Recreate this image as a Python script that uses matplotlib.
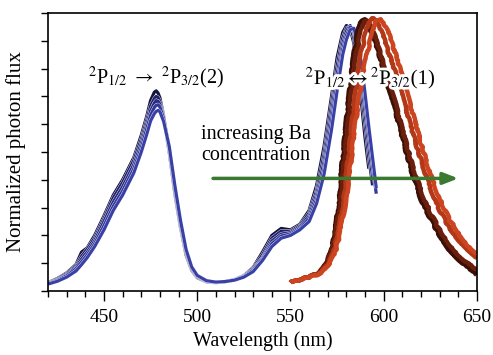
import numpy as np
import matplotlib
matplotlib.use("Agg")
import matplotlib.pyplot as plt
import matplotlib.patheffects as pe

plt.rcParams['font.family'] = ['Liberation Serif', 'DejaVu Serif']
plt.rcParams['mathtext.fontset'] = 'stix'

# ---- data ----
wl_blue = [420, 425, 430, 435, 438, 441, 445, 450, 455, 460, 463, 466, 470, 473, 475, 477, 478, 479, 480,
           482, 485, 488, 491, 494, 497, 500, 505, 510, 515, 520, 525, 530, 535, 540, 545,
           550, 555, 560, 564, 568, 572, 575, 578, 580, 582, 584, 586, 588, 590, 592, 594, 596]

blue1 = [.030, .045, .065, .095, .140, .155, .200, .270, .345, .400, .440, .480, .560, .630, .685, .715, .720, .712, .695,
         .630, .500, .350, .230, .130, .075, .048, .033, .030, .033, .040, .055, .085, .140, .200, .225,
         .220, .240, .290, .380, .520, .700, .840, .930, .955, .945, .890, .800, .680, .550, .440, np.nan, np.nan]
blue2 = [.030, .043, .062, .090, .125, .150, .190, .260, .335, .390, .430, .470, .545, .615, .665, .692, .700, .696, .682,
         .625, .500, .355, .235, .135, .078, .050, .034, .031, .034, .041, .055, .082, .130, .190, .215,
         .215, .235, .280, .360, .490, .670, .810, .910, .945, .950, .910, .830, .720, .600, .480, .380, np.nan]
blue3 = [.028, .040, .058, .085, .115, .140, .180, .250, .320, .375, .415, .455, .530, .600, .648, .676, .685, .683, .672,
         .625, .510, .360, .240, .140, .080, .052, .035, .031, .034, .040, .053, .078, .120, .180, .205,
         .210, .230, .270, .345, .465, .640, .780, .890, .935, .955, .930, .860, .760, .640, .520, .410, np.nan]
blue4 = [.027, .038, .055, .080, .105, .130, .170, .235, .305, .360, .400, .440, .515, .585, .632, .660, .668, .670, .662,
         .620, .515, .370, .245, .145, .083, .054, .036, .032, .034, .040, .052, .075, .115, .170, .198,
         .205, .225, .260, .330, .440, .610, .750, .870, .920, .950, .940, .880, .790, .680, .560, .450, .350]
blue5 = [.025, .035, .050, .072, .095, .120, .160, .220, .290, .345, .385, .425, .500, .565, .612, .638, .646, .650, .645,
         .610, .520, .380, .255, .150, .087, .056, .037, .032, .034, .039, .050, .070, .110, .160, .190,
         .200, .220, .250, .315, .420, .580, .720, .850, .905, .940, .945, .900, .820, .710, .590, .480, .370]

wl_red = [550, 553, 556, 560, 564, 567, 570, 572, 574, 576, 578, 580, 582, 584, 586, 588, 590,
          592, 594, 596, 598, 600, 603, 606, 610, 615, 620, 625, 630, 635, 640, 645, 650]

red1 = [.030, .035, .040, .050, .060, .080, .110, .150, .210, .330, .480, .610, .740, .850, .930, .970, .975,
        .960, .920, .880, .840, .780, .710, .650, .550, .430, .330, .260, .200, .150, .115, .085, .060]
red2 = [.030, .035, .042, .050, .062, .080, .105, .140, .190, .280, .410, .540, .670, .790, .880, .940, .970,
        .970, .940, .900, .860, .810, .740, .680, .580, .460, .360, .280, .220, .170, .130, .100, .075]
red3 = [.030, .035, .042, .050, .060, .075, .095, .120, .160, .220, .310, .420, .540, .660, .770, .860, .920,
        .960, .980, .975, .950, .910, .850, .790, .700, .580, .470, .370, .290, .230, .185, .150, .120]
red4 = [.030, .035, .040, .048, .058, .070, .090, .110, .140, .190, .260, .340, .440, .560, .660, .750, .820,
        .880, .930, .970, .980, .965, .920, .860, .770, .650, .530, .420, .330, .260, .210, .165, .135]

blue_series = [blue1, blue2, blue3, blue4, blue5]
red_series = [red1, red2, red3, red4]
blue_colors = ['#14143c', '#22226a', '#2a2c84', '#32379a', '#3a41a6']
red_colors = ['#3a1006', '#6a1e0c', '#b23818', '#cc4520']

xticks_major = [450, 500, 550, 600, 650]

# ---- figure ----
fig = plt.figure(figsize=(4.93, 3.55), dpi=100)
ax = fig.add_axes([48/493, (355-291)/355, (477-48)/493, (291-13)/355])

for y, c in zip(blue_series, blue_colors):
    ln, = ax.plot(wl_blue, y, color=c, lw=2.3, solid_capstyle='butt', solid_joinstyle='round')
    ln.set_path_effects([pe.Stroke(linewidth=2.8, foreground='white'), pe.Normal()])

for y, c in zip(red_series, red_colors):
    ln, = ax.plot(wl_red, y, color=c, lw=3.2, solid_capstyle='butt', solid_joinstyle='round')
    ln.set_sketch_params(scale=0.8, length=1.0, randomness=1.2)

ax.set_xlim(420, 650)
ax.set_ylim(0, 1)
ax.set_xticks(xticks_major)
ax.set_xticks(np.arange(420, 651, 10), minor=True)
ax.set_yticks(np.arange(0, 1.01, 0.1))
ax.set_yticklabels([])
ax.tick_params(axis='x', which='major', direction='out', length=7, width=1.0, labelsize=14, pad=6)
ax.tick_params(axis='x', which='minor', direction='out', length=4, width=1.0)
ax.tick_params(axis='y', which='major', direction='out', length=5, width=1.0)
for s in ax.spines.values():
    s.set_linewidth(1.2)

ax.set_xlabel('Wavelength (nm)', fontsize=14.5, labelpad=4)
ax.set_ylabel('Normalized photon flux', fontsize=15, labelpad=7)

ax.text(478, 0.72, r'$^2$P$_{1/2}$ $\rightarrow$ $^2$P$_{3/2}$(2)', fontsize=14.5,
        ha='center', va='bottom')
t2 = ax.text(593, 0.72, r'$^2$P$_{1/2}$$\leftrightarrow$$^2$P$_{3/2}$(1)', fontsize=15,
             ha='center', va='bottom')
t2.set_path_effects([pe.withStroke(linewidth=4, foreground='white')])

ax.text(502, 0.525, 'increasing Ba\nconcentration', fontsize=14.5, ha='left', va='center',
        multialignment='left', linespacing=1.15)
ax.annotate('', xy=(640, 0.405), xytext=(508.5, 0.405),
            arrowprops=dict(arrowstyle='-|>,head_length=0.9,head_width=0.35',
                            color='#3a7a30', lw=2.5, shrinkA=0, shrinkB=0))

fig.savefig('out.png', dpi=100)
